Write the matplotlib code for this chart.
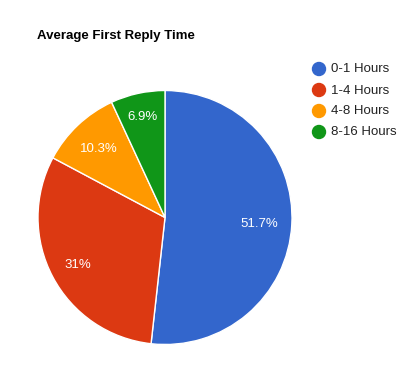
import matplotlib
matplotlib.use("Agg")
import matplotlib.pyplot as plt
import matplotlib.patches as mpatches
import numpy as np

categories = ["0-1 Hours", "1-4 Hours", "4-8 Hours", "8-16 Hours"]
values = [51.7, 31, 10.3, 6.9]
pct_labels = ["51.7%", "31%", "10.3%", "6.9%"]
colors = ["#3366CC", "#DC3912", "#FF9900", "#109618"]

plt.rcParams['font.family'] = ['Liberation Sans', 'DejaVu Sans']

W, H = 414, 375
fig = plt.figure(figsize=(W / 100, H / 100), dpi=100)
fig.patch.set_facecolor("white")

cx, cy, r = 165, 217.5, 127
ax = fig.add_axes([(cx - r) / W, (H - cy - r) / H, 2 * r / W, 2 * r / H])
wedges, _ = ax.pie(values, colors=colors, startangle=90, counterclock=False,
                   wedgeprops=dict(edgecolor="white", linewidth=1), radius=1)
ax.set_xlim(-1, 1)
ax.set_ylim(-1, 1)
ax.set_aspect("equal")
ax.axis("off")

label_dist = [0.74, 0.78, 0.76, 0.82]
for w, lab, d in zip(wedges, pct_labels, label_dist):
    ang = np.deg2rad((w.theta1 + w.theta2) / 2)
    ax.text(d * np.cos(ang), d * np.sin(ang), lab, color="white", fontsize=9.5,
            ha="center", va="center_baseline")

fig.text(37 / W, 1 - 35 / H, "Average First Reply Time", fontsize=9.5,
         fontweight="bold", ha="left", va="center_baseline", color="#000000")

leg_y = [69, 90, 111, 132]
for name, col, y in zip(categories, colors, leg_y):
    fig.patches.append(mpatches.Ellipse((319 / W, 1 - y / H), 13 / W, 13 / H,
                                        transform=fig.transFigure, color=col))
    fig.text(331 / W, 1 - (y - 1) / H, name, fontsize=9.5, ha="left", va="center_baseline",
             color="#222222")

fig.savefig("out.png", dpi=100)
